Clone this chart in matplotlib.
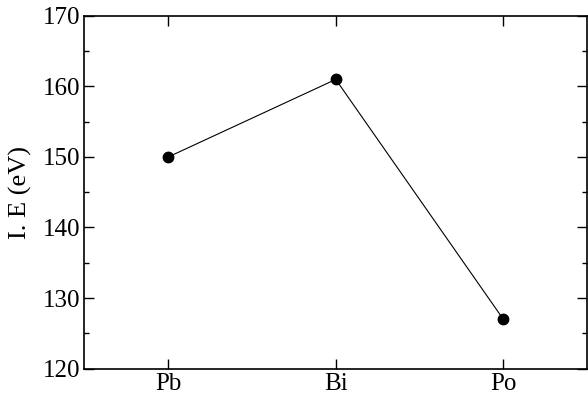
import matplotlib.pyplot as plt
from matplotlib.ticker import MultipleLocator

plt.rcParams['font.family'] = ['Liberation Serif', 'DejaVu Serif']

elements = ["Pb", "Bi", "Po"]
ie_values = [150, 161, 127]

fig = plt.figure(figsize=(5.88, 3.99), dpi=100)
ax = fig.add_axes([0.1437, 0.0764, 0.8546, 0.8836])

ax.plot(range(len(elements)), ie_values, color="black", lw=0.8,
        marker="o", markersize=7.5)

ax.set_xlim(-0.5, 2.5)
ax.set_ylim(120, 170)
ax.set_xticks(range(len(elements)))
ax.set_xticklabels(elements)
ax.yaxis.set_major_locator(MultipleLocator(10))
ax.yaxis.set_minor_locator(MultipleLocator(5))
ax.set_ylabel("I. E (eV)", fontsize=19, labelpad=8)

ax.tick_params(which="both", direction="in", top=True, right=True,
               labelsize=18, width=1, pad=3)
ax.tick_params(which="major", length=7.5)
ax.tick_params(which="minor", length=3.8)
for s in ax.spines.values():
    s.set_linewidth(1.2)

fig.savefig("out.png", dpi=100)
